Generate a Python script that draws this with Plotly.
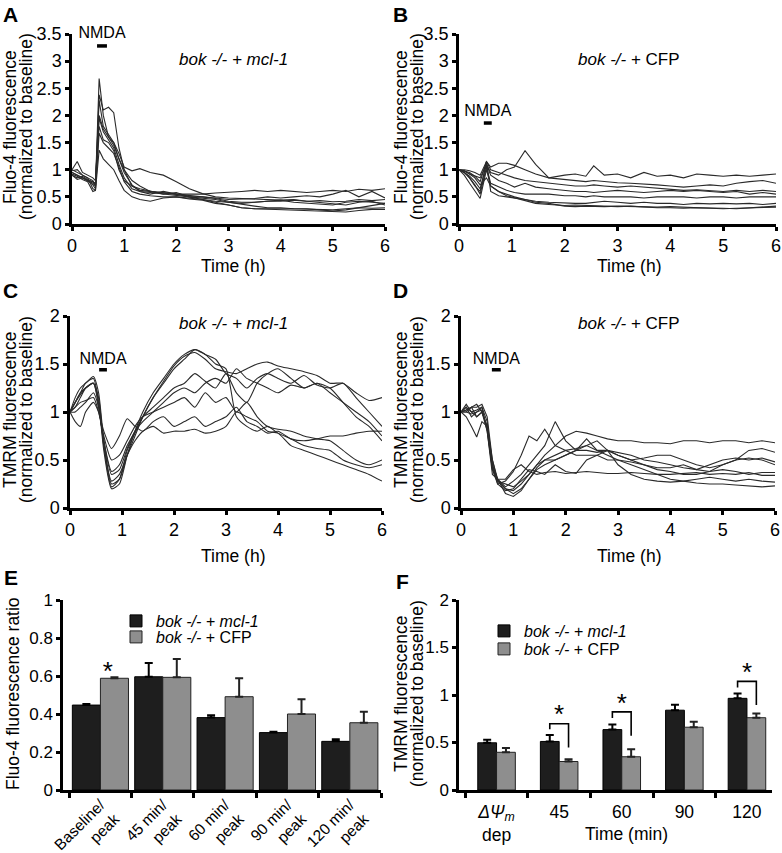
import plotly.graph_objects as go

W, H = 782, 853
FONT = "Liberation Sans, Arial, Helvetica, sans-serif"
LINE_COLOR = "#2a2a2a"

# ---------------- Panel A: Fluo-4, bok -/- + mcl-1 ----------------
A_t = [0, 0.1, 0.2, 0.3, 0.4, 0.45, 0.52, 0.6, 0.7, 0.8, 0.9, 1.0, 1.15, 1.3, 1.5, 1.75, 2.0,
       2.25, 2.5, 2.75, 3.0, 3.25, 3.5, 3.75, 4.0, 4.25, 4.5, 4.75, 5.0, 5.25, 5.5, 5.75, 6.0]
a1 = [1.0, 0.95, 0.9, 0.85, 0.8, 0.7, 2.68, 2.0, 1.6, 1.45, 1.2, 1.0, 0.7, 0.62, 0.6, 0.58, 0.55,
      0.55, 0.55, 0.57, 0.58, 0.6, 0.62, 0.6, 0.62, 0.6, 0.58, 0.6, 0.62, 0.6, 0.64, 0.62, 0.65]
a2 = [0.95, 0.9, 0.85, 0.8, 0.72, 0.65, 2.38, 2.1, 2.15, 2.05, 1.4, 1.0, 0.8, 0.7, 0.6, 0.58, 0.55,
      0.5, 0.48, 0.45, 0.4, 0.36, 0.33, 0.3, 0.3, 0.28, 0.27, 0.27, 0.26, 0.28, 0.3, 0.29, 0.3]
a3 = [0.9, 0.85, 0.88, 0.82, 0.78, 0.75, 2.28, 1.8, 1.65, 1.5, 1.3, 1.05, 0.98, 1.02, 0.95, 0.9, 0.78,
      0.65, 0.56, 0.5, 0.48, 0.47, 0.46, 0.45, 0.44, 0.45, 0.42, 0.43, 0.41, 0.42, 0.45, 0.43, 0.45]
a4 = [1.0, 1.15, 0.95, 0.9, 0.85, 0.8, 1.95, 1.7, 1.55, 1.4, 1.1, 0.85, 0.65, 0.6, 0.55, 0.6, 0.55,
      0.52, 0.5, 0.48, 0.45, 0.46, 0.47, 0.5, 0.48, 0.5, 0.52, 0.5, 0.55, 0.62, 0.5, 0.6, 0.48]
a5 = [0.95, 0.9, 0.85, 0.8, 0.75, 0.7, 1.8, 1.55, 1.5, 1.35, 1.0, 0.8, 0.7, 0.65, 0.6, 0.55, 0.58,
      0.5, 0.45, 0.4, 0.35, 0.3, 0.28, 0.28, 0.27, 0.27, 0.28, 0.26, 0.24, 0.26, 0.3, 0.35, 0.38]
a6 = [0.98, 1.0, 0.9, 0.85, 0.65, 0.62, 1.67, 1.5, 1.4, 1.3, 1.05, 0.78, 0.6, 0.55, 0.52, 0.5, 0.5,
      0.48, 0.45, 0.42, 0.4, 0.38, 0.4, 0.42, 0.44, 0.4, 0.38, 0.36, 0.35, 0.4, 0.42, 0.4, 0.38]
a7 = [0.92, 0.88, 0.82, 0.78, 0.6, 0.62, 1.36, 1.2, 1.1, 1.0, 0.8, 0.62, 0.5, 0.45, 0.42, 0.48, 0.5,
      0.46, 0.44, 0.38, 0.35, 0.3, 0.28, 0.27, 0.26, 0.25, 0.24, 0.23, 0.23, 0.22, 0.25, 0.27, 0.27]
a8 = [0.9, 0.82, 0.85, 0.8, 0.78, 0.72, 2.0, 1.75, 1.6, 1.5, 1.2, 0.95, 0.72, 0.6, 0.58, 0.55, 0.52,
      0.5, 0.5, 0.47, 0.42, 0.4, 0.4, 0.42, 0.42, 0.44, 0.42, 0.4, 0.38, 0.35, 0.4, 0.42, 0.35]

# ---------------- Panel B: Fluo-4, bok -/- + CFP ----------------
B_t = [0, 0.1, 0.2, 0.3, 0.4, 0.52, 0.6, 0.75, 0.9, 1.05, 1.25, 1.45, 1.7, 2.0, 2.2, 2.4, 2.55,
       2.75, 3.0, 3.25, 3.5, 3.75, 4.0, 4.25, 4.5, 4.75, 5.0, 5.25, 5.5, 5.75, 6.0]
b1 = [1.0, 0.98, 0.92, 0.88, 0.85, 1.1, 0.95, 0.9, 1.0, 1.05, 1.35, 1.1, 0.85, 0.9, 0.92, 0.88, 1.07,
      0.9, 0.92, 0.85, 0.95, 0.88, 0.9, 0.85, 0.92, 0.9, 0.88, 0.9, 0.88, 0.9, 0.92]
b2 = [1.0, 1.0, 0.98, 0.95, 0.9, 1.15, 1.05, 1.12, 1.12, 1.08, 1.0, 0.92, 0.85, 0.82, 0.8, 0.78, 0.8,
      0.78, 0.76, 0.75, 0.74, 0.72, 0.7, 0.68, 0.7, 0.72, 0.7, 0.75, 0.78, 0.8, 0.75]
b3 = [1.0, 0.98, 0.95, 0.88, 0.78, 1.15, 1.0, 0.95, 0.9, 0.85, 0.8, 0.78, 0.75, 0.72, 0.7, 0.7, 0.72,
      0.7, 0.68, 0.7, 0.68, 0.66, 0.65, 0.62, 0.63, 0.62, 0.6, 0.62, 0.6, 0.62, 0.6]
b4 = [1.0, 0.95, 0.88, 0.78, 0.65, 1.1, 0.9, 0.8, 0.75, 0.68, 0.75, 0.68, 0.65, 0.62, 0.6, 0.6, 0.58,
      0.6, 0.62, 0.6, 0.58, 0.6, 0.62, 0.6, 0.62, 0.6, 0.58, 0.6, 0.55, 0.58, 0.55]
b5 = [1.0, 0.95, 0.85, 0.72, 0.55, 1.05, 0.75, 0.68, 0.62, 0.58, 0.55, 0.55, 0.55, 0.52, 0.52, 0.5, 0.52,
      0.5, 0.5, 0.5, 0.48, 0.5, 0.5, 0.5, 0.48, 0.5, 0.5, 0.48, 0.5, 0.5, 0.5]
b6 = [1.0, 0.9, 0.75, 0.6, 0.47, 1.0, 0.7, 0.6, 0.55, 0.5, 0.45, 0.42, 0.4, 0.38, 0.38, 0.38, 0.4,
      0.42, 0.4, 0.38, 0.4, 0.38, 0.38, 0.36, 0.38, 0.37, 0.38, 0.37, 0.38, 0.36, 0.38]
b7 = [1.0, 0.95, 0.85, 0.7, 0.6, 1.15, 0.6, 0.52, 0.5, 0.48, 0.45, 0.4, 0.38, 0.33, 0.32, 0.33, 0.32,
      0.32, 0.33, 0.32, 0.32, 0.31, 0.32, 0.31, 0.3, 0.3, 0.28, 0.29, 0.3, 0.3, 0.31]
b8 = [1.0, 0.98, 0.92, 0.85, 0.72, 0.85, 0.7, 0.6, 0.52, 0.48, 0.42, 0.38, 0.36, 0.34, 0.35, 0.34, 0.33,
      0.32, 0.32, 0.33, 0.31, 0.3, 0.3, 0.29, 0.3, 0.3, 0.29, 0.28, 0.3, 0.32, 0.33]

# ---------------- Panel C: TMRM, bok -/- + mcl-1 ----------------
C_t = [0, 0.1, 0.2, 0.3, 0.45, 0.55, 0.65, 0.8, 0.95, 1.1, 1.25, 1.4, 1.6, 1.8, 2.0, 2.2, 2.4,
       2.6, 2.8, 3.0, 3.2, 3.4, 3.6, 3.8, 4.0, 4.25, 4.5, 4.75, 5.0, 5.25, 5.5, 5.75, 6.0]
c1 = [1.0, 1.15, 1.25, 1.3, 1.37, 1.2, 0.7, 0.25, 0.3, 0.55, 0.75, 0.95, 1.15, 1.3, 1.45, 1.55, 1.65,
      1.6, 1.5, 1.45, 0.95, 0.85, 0.8, 0.85, 0.78, 0.72, 0.65, 0.62, 0.6, 0.5, 0.45, 0.42, 0.45]
c2 = [1.0, 1.1, 1.2, 1.3, 1.35, 1.1, 0.6, 0.2, 0.25, 0.55, 0.8, 1.0, 1.2, 1.35, 1.5, 1.6, 1.65,
      1.6, 1.55, 1.4, 1.35, 1.25, 1.35, 1.4, 1.35, 1.3, 1.38, 1.28, 1.25, 1.3, 1.15, 1.0, 0.85]
c3 = [1.0, 1.05, 1.15, 1.25, 1.3, 1.15, 0.65, 0.22, 0.3, 0.6, 0.78, 0.95, 1.15, 1.32, 1.48, 1.58, 1.62,
      1.55, 1.45, 1.42, 1.4, 1.45, 1.5, 1.52, 1.48, 1.45, 1.42, 1.38, 1.3, 1.3, 1.2, 1.12, 1.15]
c4 = [1.0, 1.1, 1.18, 1.25, 1.3, 1.05, 0.7, 0.38, 0.45, 0.65, 0.8, 0.95, 1.05, 1.15, 1.25, 1.3, 1.4,
      1.32, 1.25, 1.4, 1.2, 1.1, 1.3, 1.4, 1.45, 1.35, 1.25, 1.3, 1.2, 1.1, 1.0, 0.9, 0.75]
c5 = [1.0, 1.05, 1.1, 1.12, 1.15, 1.0, 0.75, 0.5, 0.55, 0.7, 0.85, 0.95, 1.0, 1.05, 1.1, 1.15, 1.05,
      1.2, 1.1, 1.15, 1.0, 1.1, 0.95, 0.85, 0.82, 0.8, 0.75, 0.72, 0.7, 0.6, 0.5, 0.45, 0.5]
c6 = [1.0, 0.9, 0.85, 1.0, 1.1, 1.0, 0.8, 0.62, 0.75, 0.93, 0.85, 0.8, 0.9, 0.95, 0.85, 0.9, 0.95,
      0.85, 0.9, 0.95, 1.05, 0.9, 0.85, 0.78, 0.8, 0.72, 0.7, 0.72, 0.75, 0.75, 0.78, 0.8, 0.8]
c7 = [1.0, 1.1, 1.2, 1.25, 1.3, 1.1, 0.65, 0.28, 0.35, 0.55, 0.7, 0.8, 0.85, 0.78, 0.8, 0.8, 0.82,
      0.78, 0.8, 0.85, 1.0, 0.95, 0.9, 0.8, 0.78, 0.65, 0.6, 0.55, 0.5, 0.45, 0.4, 0.35, 0.28]
c8 = [1.0, 1.0, 1.05, 1.1, 1.2, 1.05, 0.7, 0.35, 0.4, 0.62, 0.8, 0.9, 1.0, 1.1, 1.2, 1.25, 1.2,
      1.3, 1.35, 1.3, 1.45, 1.35, 1.3, 1.25, 1.2, 1.28, 1.25, 1.3, 1.25, 1.1, 0.95, 0.85, 0.7]

# ---------------- Panel D: TMRM, bok -/- + CFP ----------------
D_t = [0, 0.1, 0.2, 0.3, 0.4, 0.5, 0.6, 0.7, 0.85, 1.0, 1.15, 1.3, 1.45, 1.6, 1.8, 2.0, 2.2,
       2.4, 2.6, 2.8, 3.0, 3.25, 3.5, 3.75, 4.0, 4.25, 4.5, 4.75, 5.0, 5.25, 5.5, 5.75, 6.0]
d1 = [1.0, 1.02, 1.05, 1.05, 1.08, 0.95, 0.5, 0.28, 0.2, 0.18, 0.25, 0.35, 0.45, 0.55, 0.65, 0.75, 0.8,
      0.78, 0.75, 0.72, 0.7, 0.7, 0.68, 0.68, 0.67, 0.7, 0.7, 0.68, 0.7, 0.7, 0.68, 0.7, 0.68]
d2 = [1.0, 1.05, 0.95, 1.0, 1.05, 0.9, 0.45, 0.25, 0.28, 0.38, 0.55, 0.75, 0.7, 0.82, 0.65, 0.6, 0.55,
      0.55, 0.55, 0.5, 0.5, 0.48, 0.45, 0.42, 0.42, 0.45, 0.4, 0.38, 0.45, 0.5, 0.6, 0.62, 0.58]
d3 = [1.0, 1.0, 1.05, 0.95, 1.0, 0.85, 0.4, 0.3, 0.22, 0.28, 0.35, 0.45, 0.55, 0.65, 0.9, 0.7, 0.6,
      0.72, 0.6, 0.6, 0.55, 0.5, 0.52, 0.55, 0.55, 0.5, 0.45, 0.42, 0.45, 0.5, 0.52, 0.5, 0.45]
d4 = [1.0, 0.95, 0.85, 0.74, 0.9, 0.85, 0.5, 0.3, 0.15, 0.12, 0.18, 0.3, 0.42, 0.5, 0.55, 0.6, 0.62,
      0.65, 0.7, 0.6, 0.55, 0.5, 0.45, 0.4, 0.38, 0.35, 0.35, 0.38, 0.4, 0.38, 0.35, 0.37, 0.37]
d5 = [1.0, 1.05, 1.0, 1.02, 1.05, 0.8, 0.35, 0.3, 0.3, 0.4, 0.45, 0.38, 0.35, 0.37, 0.38, 0.36, 0.37,
      0.38, 0.37, 0.36, 0.36, 0.37, 0.36, 0.35, 0.35, 0.36, 0.37, 0.35, 0.36, 0.35, 0.37, 0.34, 0.34]
d6 = [1.0, 1.08, 1.0, 0.95, 1.0, 0.8, 0.4, 0.25, 0.18, 0.2, 0.3, 0.4, 0.38, 0.35, 0.45, 0.38, 0.36,
      0.5, 0.55, 0.6, 0.45, 0.35, 0.3, 0.28, 0.27, 0.28, 0.3, 0.32, 0.3, 0.28, 0.3, 0.28, 0.27]
d7 = [1.0, 1.0, 0.98, 1.0, 1.02, 0.82, 0.42, 0.28, 0.25, 0.22, 0.28, 0.35, 0.45, 0.5, 0.5, 0.55, 0.6,
      0.65, 0.6, 0.55, 0.5, 0.45, 0.4, 0.35, 0.3, 0.28, 0.26, 0.25, 0.25, 0.24, 0.23, 0.22, 0.23]
d8 = [1.0, 1.02, 1.05, 1.08, 1.0, 0.85, 0.45, 0.3, 0.2, 0.15, 0.2, 0.3, 0.4, 0.45, 0.5, 0.55, 0.6,
      0.6, 0.58, 0.6, 0.58, 0.55, 0.5, 0.48, 0.45, 0.42, 0.4, 0.45, 0.5, 0.52, 0.5, 0.52, 0.48]

# NMDA application bars (h) and their heights, per panel A-D
NMDA_start = [0.48, 0.47, 0.56, 0.59]
NMDA_end = [0.67, 0.62, 0.71, 0.76]
NMDA_y = [3.28, 1.86, 1.44, 1.44]
NMDA_label_y = [3.5, 2.06, 1.54, 1.54]

# ---------------- Panel E: Fluo-4 ratios ----------------
E_cats = ["Baseline/<br>peak", "45 min/<br>peak", "60 min/<br>peak", "90 min/<br>peak", "120 min/<br>peak"]
E_mcl1 = [0.447, 0.596, 0.381, 0.302, 0.256]
E_mcl1_err = [0.006, 0.072, 0.012, 0.005, 0.011]
E_cfp = [0.588, 0.593, 0.491, 0.400, 0.354]
E_cfp_err = [0.005, 0.096, 0.097, 0.077, 0.058]
E_star_x = [0.12]
E_star_y = [0.615]

# ---------------- Panel F: TMRM at time points ----------------
F_cats = ["<i>ΔΨ</i><sub><i>m</i></sub><br>dep", "45", "60", "90", "120"]
F_mcl1 = [0.497, 0.511, 0.636, 0.840, 0.965]
F_mcl1_err = [0.033, 0.068, 0.054, 0.057, 0.050]
F_cfp = [0.397, 0.300, 0.350, 0.661, 0.761]
F_cfp_err = [0.046, 0.025, 0.078, 0.057, 0.043]
F_sig_idx = [1, 2, 4]
F_br_top = [0.697, 0.822, 1.143]
F_br_left = [0.64, 0.758, 1.079]
F_br_right = [0.447, 0.572, 0.894]
F_star_y = [0.77, 0.89, 1.215]

NAME_MCL = "<i>bok -/- + mcl-1</i>"
NAME_CFP = "<i>bok -/-</i> + CFP"
BLACK = "#1e1e1e"
GRAY = "#8e8e8e"
TICK_SIZE = 18
TITLE_SIZE = 17.5


def dx(a, b):
    return [a / W, b / W]


def dy(top, bottom):
    return [1 - bottom / H, 1 - top / H]


def axis(**kw):
    base = dict(showline=True, linecolor="black", linewidth=2.5, ticks="outside", ticklen=4,
                tickwidth=2.5, tickcolor="black", showgrid=False, zeroline=False,
                tickfont=dict(family=FONT, size=TICK_SIZE, color="black"))
    base.update(kw)
    return base


def legend_box(px, py):
    return dict(x=px / W, y=1 - py / H, xanchor="left", yanchor="top", bgcolor="rgba(0,0,0,0)",
                font=dict(family=FONT, size=16, color="black"), itemwidth=30, tracegroupgap=0)


fig = go.Figure()

panels = [
    ("x", "y", A_t, [a1, a2, a3, a4, a5, a6, a7, a8], "linear"),
    ("x2", "y2", B_t, [b1, b2, b3, b4, b5, b6, b7, b8], "linear"),
    ("x3", "y3", C_t, [c1, c2, c3, c4, c5, c6, c7, c8], "spline"),
    ("x4", "y4", D_t, [d1, d2, d3, d4, d5, d6, d7, d8], "linear"),
]
for i, (xa, ya, t, traces, shape) in enumerate(panels):
    for tr in traces:
        fig.add_trace(go.Scatter(x=t, y=tr, mode="lines", xaxis=xa, yaxis=ya, showlegend=False,
                                 line=dict(color=LINE_COLOR, width=1.1, shape=shape, smoothing=0.6),
                                 hoverinfo="skip"))
    fig.add_trace(go.Scatter(x=[NMDA_start[i], NMDA_end[i]], y=[NMDA_y[i], NMDA_y[i]], mode="lines",
                             xaxis=xa, yaxis=ya, showlegend=False, cliponaxis=False,
                             line=dict(color="black", width=3.5)))
    fig.add_trace(go.Scatter(x=[(NMDA_start[i] + NMDA_end[i]) / 2], y=[NMDA_label_y[i]], mode="text",
                             text=["NMDA"], textposition="middle center", xaxis=xa, yaxis=ya,
                             showlegend=False, cliponaxis=False,
                             textfont=dict(family=FONT, size=16, color="black")))

# Panel E bars
pos5 = list(range(5))
fig.add_trace(go.Bar(x=pos5, y=E_mcl1, width=0.45, offset=-0.45, name=NAME_MCL, legend="legend",
                     marker=dict(color=BLACK, line=dict(color="black", width=1)),
                     error_y=dict(type="data", array=E_mcl1_err, arrayminus=[0] * 5, symmetric=False,
                                  color="black", thickness=2, width=4),
                     xaxis="x5", yaxis="y5"))
fig.add_trace(go.Bar(x=pos5, y=E_cfp, width=0.45, offset=0, name=NAME_CFP, legend="legend3",
                     marker=dict(color=GRAY, line=dict(color="#222", width=1)),
                     error_y=dict(type="data", array=E_cfp_err, arrayminus=[0] * 5, symmetric=False,
                                  color="#222", thickness=2, width=4),
                     xaxis="x5", yaxis="y5"))
fig.add_trace(go.Scatter(x=E_star_x, y=E_star_y, mode="text", text=["*"] * len(E_star_x),
                         textfont=dict(family=FONT, size=26, color="black"), showlegend=False,
                         xaxis="x5", yaxis="y5"))

# Panel F bars
fig.add_trace(go.Bar(x=pos5, y=F_mcl1, width=0.3, offset=-0.3, name=NAME_MCL, legend="legend2",
                     marker=dict(color=BLACK, line=dict(color="black", width=1)),
                     error_y=dict(type="data", array=F_mcl1_err, arrayminus=[0] * 5, symmetric=False,
                                  color="black", thickness=2, width=4),
                     xaxis="x6", yaxis="y6"))
fig.add_trace(go.Bar(x=pos5, y=F_cfp, width=0.3, offset=0, name=NAME_CFP, legend="legend4",
                     marker=dict(color=GRAY, line=dict(color="#222", width=1)),
                     error_y=dict(type="data", array=F_cfp_err, arrayminus=[0] * 5, symmetric=False,
                                  color="#222", thickness=2, width=4),
                     xaxis="x6", yaxis="y6"))
for k, top, lo_l, lo_r in zip(F_sig_idx, F_br_top, F_br_left, F_br_right):
    fig.add_trace(go.Scatter(x=[k - 0.15, k - 0.15, k + 0.15, k + 0.15], y=[lo_l, top, top, lo_r],
                             mode="lines", line=dict(color="black", width=1.6), showlegend=False,
                             xaxis="x6", yaxis="y6"))
fig.add_trace(go.Scatter(x=F_sig_idx, y=F_star_y, mode="text", text=["*"] * len(F_sig_idx),
                         textfont=dict(family=FONT, size=26, color="black"), showlegend=False,
                         xaxis="x6", yaxis="y6"))

time_ticks = dict(range=[0, 6], tick0=0, dtick=1)
fig.update_layout(
    width=W, height=H, margin=dict(l=0, r=0, t=0, b=0, pad=0, autoexpand=False),
    paper_bgcolor="white", plot_bgcolor="white", barmode="overlay",
    font=dict(family=FONT, color="black"),
    xaxis=axis(domain=dx(72, 385), anchor="y", **time_ticks),
    yaxis=axis(domain=dy(34, 224), anchor="x", range=[0, 3.5], tick0=0, dtick=0.5),
    xaxis2=axis(domain=dx(459, 776), anchor="y2", **time_ticks),
    yaxis2=axis(domain=dy(34, 224), anchor="x2", range=[0, 3.5], tick0=0, dtick=0.5),
    xaxis3=axis(domain=dx(70, 382), anchor="y3", **time_ticks),
    yaxis3=axis(domain=dy(316, 508), anchor="x3", range=[0, 2], tick0=0, dtick=0.5),
    xaxis4=axis(domain=dx(461, 775), anchor="y4", **time_ticks),
    yaxis4=axis(domain=dy(316, 508), anchor="x4", range=[0, 2], tick0=0, dtick=0.5),
    xaxis5=axis(domain=dx(63, 381), anchor="y5", range=[-0.6, 4.5], tickmode="array",
                tickvals=pos5, ticktext=E_cats, tickangle=-45, tickcolor="rgba(0,0,0,0)",
                ticklabelstandoff=-7,
                tickfont=dict(family=FONT, size=15.5, color="black"),
                minor=dict(tickmode="array", tickvals=[-0.5, 0.5, 1.5, 2.5, 3.5, 4.5], ticks="outside",
                           ticklen=5, tickwidth=2.5, tickcolor="black")),
    yaxis5=axis(domain=dy(600, 790), anchor="x5", range=[0, 1], tick0=0, dtick=0.2,
                tickfont=dict(family=FONT, size=17, color="black")),
    xaxis6=axis(domain=dx(459, 772), anchor="y6", range=[-0.6, 4.4], tickmode="array",
                tickvals=pos5, ticktext=F_cats, tickcolor="rgba(0,0,0,0)",
                tickfont=dict(family=FONT, size=17.5, color="black"),
                minor=dict(tickmode="array", tickvals=[-0.5, 0.5, 1.5, 2.5, 3.5], ticks="outside",
                           ticklen=5, tickwidth=2.5, tickcolor="black")),
    yaxis6=axis(domain=dy(600, 790), anchor="x6", range=[0, 2], tick0=0, dtick=0.5,
                tickfont=dict(family=FONT, size=17, color="black")),
    legend=legend_box(116, 604),
    legend3=legend_box(116, 620),
    legend2=legend_box(484, 614),
    legend4=legend_box(484, 632),
)

ann = []


def label(px, py, text, size=TITLE_SIZE, angle=0, bold=False, xanchor="center"):
    if bold:
        text = "<b>" + text + "</b>"
    ann.append(dict(x=px / W, y=1 - py / H, xref="paper", yref="paper", text=text, showarrow=False,
                    textangle=angle, xanchor=xanchor, yanchor="middle",
                    font=dict(family=FONT, size=size, color="black")))


# panel letters
for letter, px, py in [("A", 10, 15), ("B", 400, 15), ("C", 10, 290), ("D", 400, 290),
                       ("E", 11, 577), ("F", 402, 581)]:
    label(px, py, letter, size=21, bold=True)

# y-axis titles
for x1, x2, yc, t1 in [(10, 26, 127, "Fluo-4 fluorescence"), (401, 417, 127, "Fluo-4 fluorescence"),
                       (10, 26, 410, "TMRM fluorescence"), (401, 417, 410, "TMRM fluorescence"),
                       (401, 417, 694, "TMRM fluorescence")]:
    label(x1, yc, t1, angle=-90)
    label(x2, yc, "(normalized to baseline)", angle=-90)
label(13, 694, "Fluo-4 fluorescence ratio", angle=-90)

# x-axis titles
for px, py in [(233, 266), (629, 266), (233, 556), (629, 556)]:
    label(px, py, "Time (h)")
label(626, 834, "Time (min)")

# condition labels inside the traces panels
for px, py, txt in [(233, 60, NAME_MCL), (629, 60, NAME_CFP), (233, 323, NAME_MCL), (629, 323, NAME_CFP)]:
    label(px, py, txt, size=17)

fig.update_layout(annotations=ann)
fig.write_html("out.html", config={"displayModeBar": False},
               post_script="document.body.style.margin='0px';")
